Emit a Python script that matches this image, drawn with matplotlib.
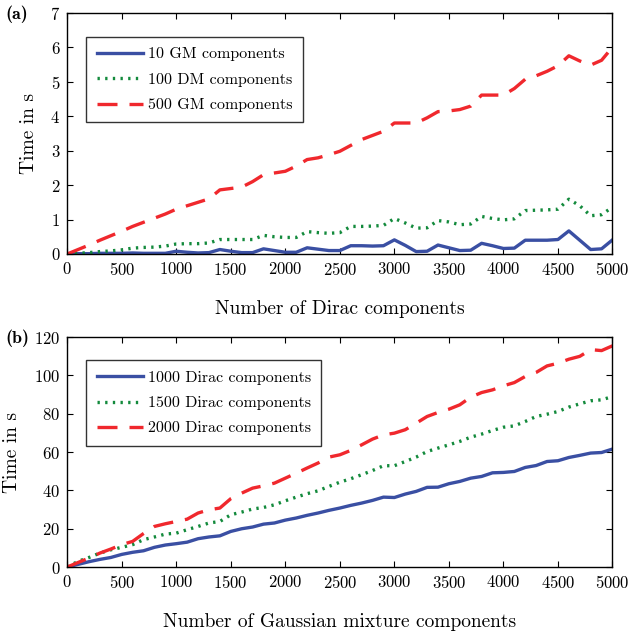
import numpy as np
import matplotlib
matplotlib.use("Agg")
import matplotlib.pyplot as plt

plt.rcParams["font.family"] = ["cmr10", "DejaVu Serif"]
plt.rcParams["axes.formatter.use_mathtext"] = True
plt.rcParams["mathtext.fontset"] = "cm"

# ---- data ----
x = np.arange(0, 5001, 100)

# (a) number of Dirac components on x
gm10 = [0, 0.01, 0.01, 0.02, 0.02, 0.02, 0.03, 0.02, 0.02, 0.02,
        0.08, 0.05, 0.03, 0.04, 0.13, 0.08, 0.04, 0.04, 0.15, 0.10,
        0.05, 0.05, 0.18, 0.14, 0.10, 0.10, 0.24, 0.24, 0.23, 0.24,
        0.41, 0.25, 0.07, 0.08, 0.26, 0.18, 0.10, 0.11, 0.31, 0.24,
        0.16, 0.17, 0.40, 0.40, 0.40, 0.42, 0.67, 0.40, 0.13, 0.15,
        0.41]
dm100 = [0, 0.02, 0.04, 0.07, 0.09, 0.12, 0.17, 0.19, 0.20, 0.23,
         0.29, 0.30, 0.30, 0.32, 0.42, 0.42, 0.42, 0.42, 0.54, 0.50,
         0.48, 0.48, 0.65, 0.62, 0.60, 0.62, 0.80, 0.80, 0.81, 0.83,
         1.03, 0.90, 0.75, 0.76, 0.97, 0.93, 0.85, 0.87, 1.09, 1.03,
         0.99, 1.02, 1.26, 1.27, 1.28, 1.30, 1.59, 1.40, 1.11, 1.14,
         1.36]
gm500 = [0, 0.13, 0.26, 0.40, 0.53, 0.66, 0.80, 0.92, 1.04, 1.16,
         1.30, 1.40, 1.50, 1.60, 1.86, 1.90, 1.94, 2.10, 2.30, 2.35,
         2.40, 2.55, 2.74, 2.79, 2.88, 2.98, 3.15, 3.32, 3.44, 3.56,
         3.80, 3.80, 3.80, 3.95, 4.13, 4.15, 4.19, 4.29, 4.61, 4.61,
         4.61, 4.80, 5.07, 5.17, 5.30, 5.46, 5.75, 5.60, 5.48, 5.62,
         6.00]

# (b) number of Gaussian mixture components on x
d1000 = [0, 1.4, 2.8, 4.0, 5.0, 6.6, 7.7, 8.5, 10.3, 11.5,
         12.2, 13.0, 14.8, 15.7, 16.3, 18.6, 20.0, 20.9, 22.4, 23.0,
         24.5, 25.6, 27.0, 28.2, 29.6, 30.8, 32.2, 33.4, 34.8, 36.5,
         36.3, 38.1, 39.5, 41.6, 41.7, 43.5, 44.7, 46.4, 47.3, 49.2,
         49.4, 49.9, 52.0, 53.0, 55.1, 55.5, 57.2, 58.3, 59.5, 59.8,
         61.6]
d1500 = [0, 3.0, 5.0, 7.3, 9.0, 10.3, 11.7, 14.3, 15.7, 17.2,
         17.7, 19.5, 21.2, 23.0, 23.8, 27.3, 28.7, 30.3, 31.1, 32.5,
         34.6, 36.5, 38.3, 39.8, 42.1, 44.3, 46.1, 48.2, 50.4, 52.9,
         52.9, 55.1, 57.4, 60.3, 62.1, 63.8, 65.6, 67.8, 69.4, 71.3,
         73.0, 73.7, 76.0, 78.6, 79.8, 81.2, 83.5, 85.2, 86.8, 87.3,
         89.0]
d2000 = [0, 2.4, 4.7, 7.3, 9.4, 11.7, 13.4, 17.5, 21.2, 22.6,
         23.8, 25.0, 28.2, 29.9, 30.8, 35.7, 38.6, 41.2, 42.4, 43.8,
         46.4, 49.0, 51.7, 54.3, 57.4, 58.6, 60.9, 63.8, 66.8, 69.0,
         69.9, 71.7, 75.1, 78.6, 80.7, 82.4, 84.7, 88.7, 91.1, 92.5,
         94.6, 96.3, 99.5, 101.6, 105.0, 106.4, 108.5, 110.0, 113.5, 113.0,
         115.5]

BLUE = "#3a4fa3"
GREEN = "#138a3c"
RED = "#f0282d"

fig = plt.figure(figsize=(6.4, 6.35), dpi=100)
ax_a = fig.add_axes([0.105, 0.600, 0.852, 0.380])
ax_b = fig.add_axes([0.105, 0.107, 0.852, 0.362])


def style(ax, ylim, yticks, xlabel):
    ax.set_xlim(0, 5000)
    ax.set_ylim(*ylim)
    ax.set_xticks(np.arange(0, 5001, 500))
    ax.set_yticks(yticks)
    ax.tick_params(direction="in", top=True, right=True, labelsize=12,
                   length=4, width=0.8, pad=5)
    for s in ax.spines.values():
        s.set_linewidth(1.0)
    ax.set_ylabel("Time in s", fontsize=14, labelpad=9)
    ax.set_xlabel(xlabel, fontsize=14, labelpad=16)


kw_solid = dict(color=BLUE, lw=2.4, solid_joinstyle="round")
kw_dot = dict(color=GREEN, lw=2.4, linestyle=(0, (0.7, 1.6)), dash_capstyle="butt")
kw_dash = dict(color=RED, lw=2.4, linestyle=(0, (6.0, 3.6)))

ax_a.plot(x, gm10, label="10 GM components", **kw_solid)
ax_a.plot(x, dm100, label="100 DM components", **kw_dot)
ax_a.plot(x, gm500, label="500 GM components", **kw_dash)
style(ax_a, (0, 7), range(0, 8), "Number of Dirac components")

ax_b.plot(x, d1000, label="1000 Dirac components", **kw_solid)
ax_b.plot(x, d1500, label="1500 Dirac components", **kw_dot)
ax_b.plot(x, d2000, label="2000 Dirac components", **kw_dash)
style(ax_b, (0, 120), range(0, 121, 20), "Number of Gaussian mixture components")

for ax in (ax_a, ax_b):
    leg = ax.legend(loc="upper left", bbox_to_anchor=(0.035, 0.90),
                    fontsize=11.5, frameon=True, fancybox=False,
                    edgecolor="black", handlelength=2.9, handletextpad=0.3,
                    borderpad=0.65, labelspacing=0.7, borderaxespad=0)
    leg.get_frame().set_linewidth(1.0)

fig.text(0.008, 0.978, "(a)", fontsize=13, fontweight="bold",
         family=["cmb10", "DejaVu Serif"], va="center")
fig.text(0.008, 0.468, "(b)", fontsize=13, fontweight="bold",
         family=["cmb10", "DejaVu Serif"], va="center")

fig.savefig("out.png", dpi=100)
